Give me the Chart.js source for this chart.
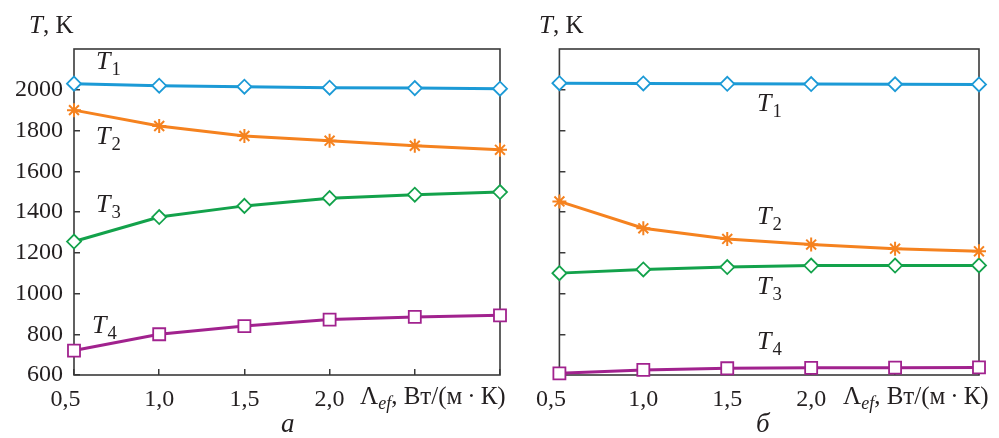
<!DOCTYPE html>
<html>
<head>
<meta charset="utf-8">
<script src="https://cdn.jsdelivr.net/npm/chart.js@4/dist/chart.umd.min.js"></script>
<style>
  html, body { margin:0; padding:0; background:#fff; }
  #wrap { position:relative; width:999px; height:438px; overflow:hidden; font-family:"Liberation Serif","DejaVu Serif",serif; color:#231f20; }
  canvas { position:absolute; top:0; }
  .lbl { position:absolute; white-space:nowrap; line-height:1; font-family:"Liberation Serif",serif; color:#231f20; }
  .it { font-style:italic; }
  .sub { font-size:0.72em; position:relative; top:0.32em; font-style:normal; margin-left:0.05em; }
</style>
</head>
<body>
<div id="wrap">
  <canvas id="cA" width="520" height="438" style="left:0;width:520px;height:438px"></canvas>
  <canvas id="cB" width="479" height="438" style="left:520px;width:479px;height:438px"></canvas>
</div>
<script>
// ---- data ----
const lambdaEf = [0.5, 1.0, 1.5, 2.0, 2.5, 3.0];
const xTickLabels = ['0,5', '1,0', '1,5', '2,0'];
const yTickValues = [600, 800, 1000, 1200, 1400, 1600, 1800, 2000];
const seriesNames = ['T1', 'T2', 'T3', 'T4'];
// panel a
const aT1 = [2030, 2020, 2015, 2010, 2008, 2005];
const aT2 = [1900, 1822, 1773, 1750, 1725, 1705];
const aT3 = [1255, 1375, 1430, 1468, 1485, 1498];
const aT4 = [720, 800, 840, 872, 885, 893];
// panel б
const bT1 = [2032, 2031, 2029, 2028, 2027, 2026];
const bT2 = [1452, 1320, 1268, 1240, 1220, 1207];
const bT3 = [1100, 1118, 1130, 1137, 1137, 1138];
const bT4 = [608, 625, 633, 635, 636, 637];

// ---- styles ----
const colors = ['#1c9ad6', '#f5821f', '#13a24b', '#a1228e'];
const markers = ['rectRot', 'star', 'rectRot', 'rect'];
const radii = [7, 7, 7, 8.5];
const inkColor = '#231f20';
const axisColor = '#3a3a3a';
const serif = '"Liberation Serif", "Times New Roman", serif';

function makeDatasets(arrs) {
  return arrs.map((d, i) => ({
    label: seriesNames[i],
    data: lambdaEf.map((x, j) => ({x: x, y: d[j]})),
    borderColor: colors[i],
    backgroundColor: '#ffffff',
    pointBackgroundColor: markers[i] === 'star' ? colors[i] : '#ffffff',
    pointBorderColor: colors[i],
    pointStyle: markers[i],
    pointRadius: radii[i],
    pointBorderWidth: markers[i] === 'star' ? 2 : 1.8,
    borderWidth: 3,
    tension: 0,
    clip: false
  }));
}

const boxPlugin = {
  id: 'box',
  beforeDatasetsDraw(chart) {
    const a = chart.chartArea, ctx = chart.ctx;
    ctx.save();
    ctx.strokeStyle = axisColor;
    ctx.lineWidth = 1.6;
    ctx.strokeRect(a.left, a.top, a.right - a.left, a.bottom - a.top);
    ctx.restore();
  }
};

function makeChart(id, arrs, showY, yWidth) {
  return new Chart(document.getElementById(id), {
    type: 'line',
    data: { datasets: makeDatasets(arrs) },
    options: {
      responsive: false,
      animation: false,
      events: [],
      layout: { padding: { top: 49, right: 20, left: 0, bottom: 0 } },
      plugins: { legend: { display: false }, tooltip: { enabled: false } },
      scales: {
        x: {
          type: 'linear', min: 0.5, max: 3.0,
          afterBuildTicks(scale) { scale.ticks = lambdaEf.map(v => ({value: v})); },
          afterFit(scale) { scale.height = 63; },
          border: { display: false },
          grid: { drawOnChartArea: false, drawTicks: true, tickLength: -6, color: axisColor, lineWidth: 1.5 },
          ticks: {
            autoSkip: false, maxRotation: 0, padding: 16,
            color: inkColor,
            font: { family: serif, size: 24 },
            callback(v, i) { return i === 0 ? xTickLabels[0] + '\u2002\u2009' : (xTickLabels[i] || ''); }
          }
        },
        y: {
          type: 'linear', min: 600, max: 2200,
          afterBuildTicks(scale) { scale.ticks = yTickValues.map(v => ({value: v})); },
          afterFit(scale) { scale.width = yWidth; },
          border: { display: false },
          grid: { drawOnChartArea: false, drawTicks: true, tickLength: -6, color: axisColor, lineWidth: 1.5 },
          ticks: {
            display: showY, padding: 17,
            color: inkColor,
            font: { family: serif, size: 24 },
            callback(v) { return String(v); }
          }
        }
      }
    },
    plugins: [boxPlugin]
  });
}

// ---- text annotations ----
const wrap = document.getElementById('wrap');
function addLabel(html, x, baseline, size, extraClass) {
  const d = document.createElement('div');
  d.className = 'lbl ' + (extraClass || '');
  d.style.fontSize = size + 'px';
  d.style.left = x + 'px';
  d.style.top = (baseline - 0.84 * size) + 'px';
  d.innerHTML = html;
  wrap.appendChild(d);
}
const tLabel = n => '<span class="it">T</span><span class="sub">' + n + '</span>';
const axisTitleY = '<span class="it">T</span>, K';
const axisTitleX = '\u039B<span class="it" style="font-size:0.72em;position:relative;top:0.3em">ef</span>, Вт/(м\u2009\u00B7\u2009К)';

addLabel(axisTitleY, 29, 33, 25);
addLabel(axisTitleY, 539, 33, 25);
addLabel(axisTitleX, 360, 404, 25);
addLabel(axisTitleX, 843, 404, 25);
addLabel('а', 281, 433, 27, 'it');
addLabel('б', 756, 433, 27, 'it');

addLabel(tLabel(1), 96, 70, 26);
addLabel(tLabel(2), 96, 145, 26);
addLabel(tLabel(3), 96, 213, 26);
addLabel(tLabel(4), 92, 334, 26);
addLabel(tLabel(1), 757, 112, 26);
addLabel(tLabel(2), 757, 225, 26);
addLabel(tLabel(3), 757, 295, 26);
addLabel(tLabel(4), 757, 350, 26);

function draw() {
  makeChart('cA', [aT1, aT2, aT3, aT4], true, 74);
  makeChart('cB', [bT1, bT2, bT3, bT4], false, 34);
}
if (document.fonts && document.fonts.load) {
  document.fonts.load('24px "Liberation Serif"').then(draw, draw);
} else {
  draw();
}
</script>
</body>
</html>
